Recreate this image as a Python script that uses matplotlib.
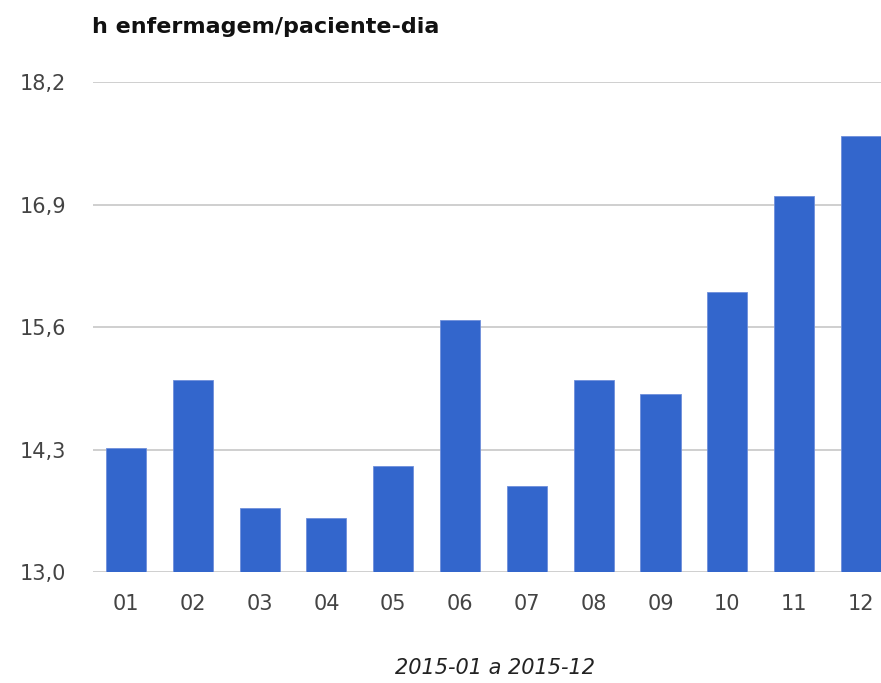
import matplotlib.pyplot as plt

months = ['01', '02', '03', '04', '05', '06', '07', '08', '09', '10', '11', '12']
values = [14.32, 15.04, 13.68, 13.57, 14.12, 15.67, 13.91, 15.04, 14.89, 15.97, 16.99, 17.63]
yticks = [13.0, 14.3, 15.6, 16.9, 18.2]
ytick_labels = ['13,0', '14,3', '15,6', '16,9', '18,2']

plt.rcParams['font.family'] = ['DejaVu Sans']

fig = plt.figure(figsize=(8.81, 6.83), dpi=100)
ax = fig.add_axes([0.1051, 0.1625, 0.910, 0.7174])

x = list(range(len(months)))
ax.bar(x, values, width=0.6, color='#3366cc', edgecolor='#6f8fdb', linewidth=0.6, zorder=3)

ax.set_xlim(-0.5, len(months) - 0.5)
ax.set_ylim(13.0, 18.2)
ax.set_yticks(yticks)
ax.set_yticklabels(ytick_labels)
ax.set_xticks(x)
ax.set_xticklabels(months)
ax.grid(axis='y', color='#cccccc', linewidth=1.3, zorder=0)
for s in ax.spines.values():
    s.set_visible(False)
ax.tick_params(length=0, labelsize=15, labelcolor='#444444')
ax.tick_params(axis='y', pad=19)
ax.tick_params(axis='x', pad=16)

fig.text(495 / 881, 1 - 668 / 683, '2015-01 a 2015-12', fontsize=15, style='italic',
         color='#222222', ha='center', va='center')
fig.text(92 / 881, 1 - 27 / 683, 'h enfermagem/paciente-dia', fontsize=16, fontweight='bold',
         color='#111111', ha='left', va='center')

fig.savefig('out.png', dpi=100)
